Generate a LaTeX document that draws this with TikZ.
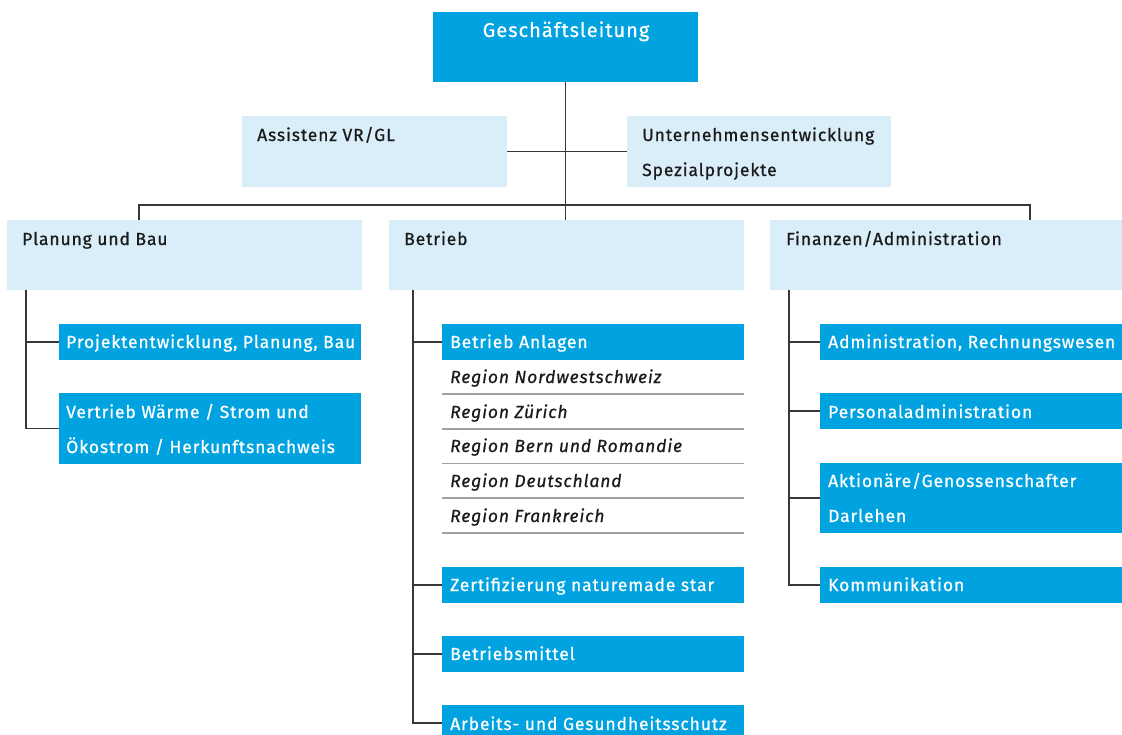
\documentclass[tikz,border=0pt]{standalone}
\usepackage{fontspec}
\setmainfont{Fira Sans}[LetterSpace=5, FakeBold=0.7]
\usetikzlibrary{calc}
\definecolor{dblue}{RGB}{0,163,224}
\definecolor{lblue}{RGB}{218,238,250}
\definecolor{ink}{RGB}{26,26,26}
\definecolor{linec}{RGB}{55,55,55}
\definecolor{rulec}{RGB}{160,160,160}
\newcommand{\fs}{\fontsize{17.5}{35}\selectfont}
\newcommand{\fbig}{\fontsize{20}{35}\selectfont}
\begin{document}
\begin{tikzpicture}[x=1pt,y=-1pt,
  box/.style={rectangle, inner sep=0, outer sep=0, anchor=north west, draw=none},
  dbox/.style={box, fill=dblue},
  lbox/.style={box, fill=lblue},
  wtxt/.style={anchor=base west, inner sep=0, text=white, font=\fs},
  btxt/.style={anchor=base west, inner sep=0, text=ink, font=\fs},
  itxt/.style={btxt, font=\fs\itshape},
  conn/.style={draw=linec, line width=1.2pt},
  sep/.style={draw=rulec, line width=1.2pt}]
\useasboundingbox (0,0) rectangle (1122,734);
\clip (0,0) rectangle (1122,734);
% top
\node[dbox, minimum width=265, minimum height=70] (gl) at (433,12) {};
\node[wtxt, anchor=base, font=\fbig] (glt) at (566,37) {Geschäftsleitung};
\node[lbox, minimum width=265, minimum height=71] (ass) at (242,116) {};
\node[btxt] (asst) at (257,141) {Assistenz VR/GL};
\node[lbox, minimum width=264, minimum height=71] (unt) at (627,116) {};
\node[btxt] (untt) at (642,141) {Unternehmensentwicklung};
\node[btxt] (untt2) at (642,176) {Spezialprojekte};
% level 2
\node[lbox, minimum width=355, minimum height=70] (plan) at (7,220) {};
\node[btxt] (plant) at (22,245) {Planung und Bau};
\node[lbox, minimum width=355, minimum height=70] (bet) at (389,220) {};
\node[btxt] (bett) at (404,245) {Betrieb};
\node[lbox, minimum width=352, minimum height=70] (fin) at (770,220) {};
\node[btxt] (fint) at (786,245) {Finanzen/Administration};
% left
\node[dbox, minimum width=302, minimum height=36] (proj) at (59,324) {};
\node[wtxt] (projt) at (66,348) {Projektentwicklung, Planung, Bau};
\node[dbox, minimum width=302, minimum height=71] (vert) at (59,393) {};
\node[wtxt] (vertt) at (66,418) {Vertrieb Wärme / Strom und};
\node[wtxt] (vertt2) at (66,453) {Ökostrom / Herkunftsnachweis};
% middle
\node[dbox, minimum width=302, minimum height=36] (anl) at (442,324) {};
\node[wtxt] (anlt) at (450,348) {Betrieb Anlagen};
\node[itxt] (r1) at (450,383) {Region Nordwestschweiz};
\node[itxt] (r2) at (450,418) {Region Zürich};
\node[itxt] (r3) at (450,452) {Region Bern und Romandie};
\node[itxt] (r4) at (450,487) {Region Deutschland};
\node[itxt] (r5) at (450,522) {Region Frankreich};
\foreach \y in {394,429,463.5,498,533} \draw[sep] (442,\y) -- (744,\y);
\node[dbox, minimum width=302, minimum height=36] (zer) at (442,567) {};
\node[wtxt] (zert) at (450,591) {Zertifizierung naturemade star};
\node[dbox, minimum width=302, minimum height=36] (bm) at (442,636) {};
\node[wtxt] (bmt) at (450,660) {Betriebsmittel};
\node[dbox, minimum width=302, minimum height=36] (ags) at (442,705) {};
\node[wtxt] (agst) at (450,730) {Arbeits- und Gesundheitsschutz};
% right
\node[dbox, minimum width=302, minimum height=36] (adm) at (820,324) {};
\node[wtxt] (admt) at (828,348) {Administration, Rechnungswesen};
\node[dbox, minimum width=302, minimum height=36] (per) at (820,393) {};
\node[wtxt] (pert) at (828,418) {Personaladministration};
\node[dbox, minimum width=302, minimum height=70] (akt) at (820,463) {};
\node[wtxt] (aktt) at (828,487) {Aktionäre/Genossenschafter};
\node[wtxt] (aktt2) at (828,522) {Darlehen};
\node[dbox, minimum width=302, minimum height=36] (kom) at (820,567) {};
\node[wtxt] (komt) at (828,591) {Kommunikation};
% connectors
\draw[conn] (gl.south) -- (gl.south |- bet.north);
\draw[conn] (ass.east) -- (unt.west);
\coordinate (barL) at ($(plan.north west)+(132,0)$);
\coordinate (barR) at ($(fin.north west)+(260,0)$);
\draw[conn] (barL) -- ++(0,-15) -| (barR);
\coordinate (pl) at ($(plan.south west)+(19,0)$);
\draw[conn] (pl) |- (proj.west);
\draw[conn] (pl) |- (vert.west);
\coordinate (bl) at ($(bet.south west)+(24,0)$);
\draw[conn] (bl) |- (anl.west);
\draw[conn] (bl) |- (zer.west);
\draw[conn] (bl) |- (bm.west);
\draw[conn] (bl) |- (ags.west);
\coordinate (fl) at ($(fin.south west)+(19,0)$);
\draw[conn] (fl) |- (adm.west);
\draw[conn] (fl) |- (per.west);
\draw[conn] (fl) |- (akt.west);
\draw[conn] (fl) |- (kom.west);
\end{tikzpicture}
\end{document}
